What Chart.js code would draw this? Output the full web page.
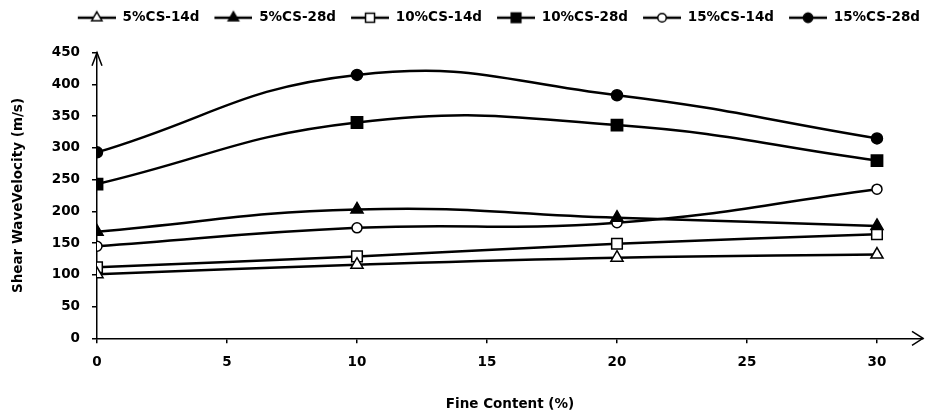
<!DOCTYPE html>
<html>
<head>
<meta charset="utf-8">
<script src="https://cdn.jsdelivr.net/npm/chart.js@4.4.1/dist/chart.umd.min.js"></script>
<style>
  body { margin: 0; background: #fff; }
  #wrap { width: 925px; height: 417px; position: relative; }
</style>
</head>
<body>
<div id="wrap"><canvas id="chart"></canvas></div>
<script>
const fineContent = [0, 10, 20, 30];
const cs5d14 = [101, 116, 127, 132];
const cs5d28 = [168, 203, 190, 177];
const cs10d14 = [112, 129, 149, 164];
const cs10d28 = [243, 340, 336, 280];
const cs15d14 = [145, 174, 182, 235];
const cs15d28 = [293, 415, 383, 315];
const seriesNames = ['5%CS-14d', '5%CS-28d', '10%CS-14d', '10%CS-28d', '15%CS-14d', '15%CS-28d'];
const yTicks = [0, 50, 100, 150, 200, 250, 300, 350, 400, 450];
const xTicks = [0, 5, 10, 15, 20, 25, 30];

const FONT = 'DejaVu Sans';

// marker shapes, same geometry as chart.js uses
const drawMarker = (g, style, x, y, r, filled) => {
    g.beginPath();
    if (style === 'circle') {
        g.arc(x, y, r, 0, Math.PI * 2);
    } else if (style === 'rect') {
        const s = r * Math.SQRT1_2;
        g.rect(x - s, y - s, 2 * s, 2 * s);
    } else {
        g.moveTo(x, y - r);
        g.lineTo(x + Math.sin(2 * Math.PI / 3) * r, y + r / 2);
        g.lineTo(x - Math.sin(2 * Math.PI / 3) * r, y + r / 2);
    }
    g.closePath();
    g.fillStyle = filled ? '#000' : '#fff';
    g.fill();
    g.lineWidth = 1.5;
    g.strokeStyle = '#000';
    g.stroke();
};

// legend sample: blank gap, then a short line with the marker on it
const legendIcon = (style, filled, r) => {
    const c = document.createElement('canvas');
    c.width = 50;
    c.height = 18;
    const g = c.getContext('2d');
    g.strokeStyle = '#000';
    g.lineWidth = 2.5;
    g.beginPath();
    g.moveTo(12, 9);
    g.lineTo(50, 9);
    g.stroke();
    drawMarker(g, style, 31, 9, r * 0.85, filled);
    return c;
};

const styles = [
    { values: cs5d14, shape: 'triangle', filled: false, r: 7 },
    { values: cs5d28, shape: 'triangle', filled: true, r: 7 },
    { values: cs10d14, shape: 'rect', filled: false, r: 7.5 },
    { values: cs10d28, shape: 'rect', filled: true, r: 8 },
    { values: cs15d14, shape: 'circle', filled: false, r: 5 },
    { values: cs15d28, shape: 'circle', filled: true, r: 5.5 }
];

const icons = styles.map(s => legendIcon(s.shape, s.filled, s.r));

const datasets = styles.map((s, i) => ({
    label: seriesNames[i],
    data: fineContent.map((x, j) => ({ x: x, y: s.values[j] })),
    borderColor: '#000',
    borderWidth: 2.5,
    tension: 0.45,
    pointStyle: s.shape,
    pointRadius: s.r,
    pointBackgroundColor: s.filled ? '#000' : '#fff',
    pointBorderColor: '#000',
    pointBorderWidth: 1.5
}));

const arrowPlugin = {
    id: 'arrows',
    afterDraw(chart) {
        const { ctx, chartArea } = chart;
        ctx.save();
        ctx.strokeStyle = '#000';
        ctx.lineWidth = 1.5;
        ctx.beginPath();
        ctx.moveTo(chartArea.left - 5, chartArea.top + 13);
        ctx.lineTo(chartArea.left, chartArea.top);
        ctx.lineTo(chartArea.left + 5, chartArea.top + 13);
        ctx.moveTo(chartArea.right - 11, chartArea.bottom - 7);
        ctx.lineTo(chartArea.right, chartArea.bottom);
        ctx.lineTo(chartArea.right - 11, chartArea.bottom + 7);
        ctx.stroke();
        ctx.restore();
    }
};

Chart.defaults.color = '#000';
Chart.defaults.font.family = FONT;
Chart.defaults.font.weight = 'bold';
Chart.defaults.font.size = 13.5;

new Chart(document.getElementById('chart'), {
    type: 'line',
    data: { datasets: datasets },
    options: {
        responsive: true,
        maintainAspectRatio: false,
        animation: false,
        events: [],
        layout: { autoPadding: false, padding: { top: 8, right: 2, bottom: 0, left: 0 } },
        scales: {
            x: {
                type: 'linear',
                min: 0,
                max: 31.77,
                afterBuildTicks: scale => {
                    scale.ticks = xTicks.map(v => ({ value: v }));
                },
                afterFit: scale => {
                    scale.height = 78.7;
                    scale.paddingLeft = 0;
                    scale.paddingRight = 0;
                },
                ticks: { padding: 11, font: { size: 13.5, weight: 'bold' } },
                grid: { drawOnChartArea: false, tickLength: 5, color: '#000', lineWidth: 1.5 },
                border: { color: '#000', width: 1.5 },
                title: {
                    display: true,
                    text: 'Fine Content (%)',
                    font: { size: 13.5, weight: 'bold' },
                    padding: { top: 0, bottom: 4 }
                }
            },
            y: {
                min: 0,
                max: 450,
                afterBuildTicks: scale => {
                    scale.ticks = yTicks.map(v => ({ value: v }));
                },
                afterFit: scale => { scale.width = 97; },
                ticks: { padding: 12, font: { size: 13.5, weight: 'bold' } },
                grid: { drawOnChartArea: false, tickLength: 5, color: '#000', lineWidth: 1.5 },
                border: { color: '#000', width: 1.5 },
                title: {
                    display: true,
                    text: 'Shear WaveVelocity (m/s)',
                    font: { size: 13.5, weight: 'bold' },
                    padding: { top: 10, bottom: 0 }
                }
            }
        },
        plugins: {
            legend: {
                position: 'top',
                align: 'end',
                labels: {
                    usePointStyle: true,
                    pointStyleWidth: 50,
                    padding: 3,
                    color: '#000',
                    font: { size: 13.5, weight: 'bold' },
                    generateLabels: chart => {
                        const items = Chart.defaults.plugins.legend.labels.generateLabels(chart);
                        items.forEach((item, i) => { item.pointStyle = icons[i]; });
                        return items;
                    }
                }
            },
            subtitle: {
                display: true,
                text: '',
                position: 'top',
                weight: 500,
                font: { size: 1 },
                padding: { top: 0, bottom: 17 }
            },
            tooltip: { enabled: false }
        }
    },
    plugins: [arrowPlugin]
});
</script>
</body>
</html>
